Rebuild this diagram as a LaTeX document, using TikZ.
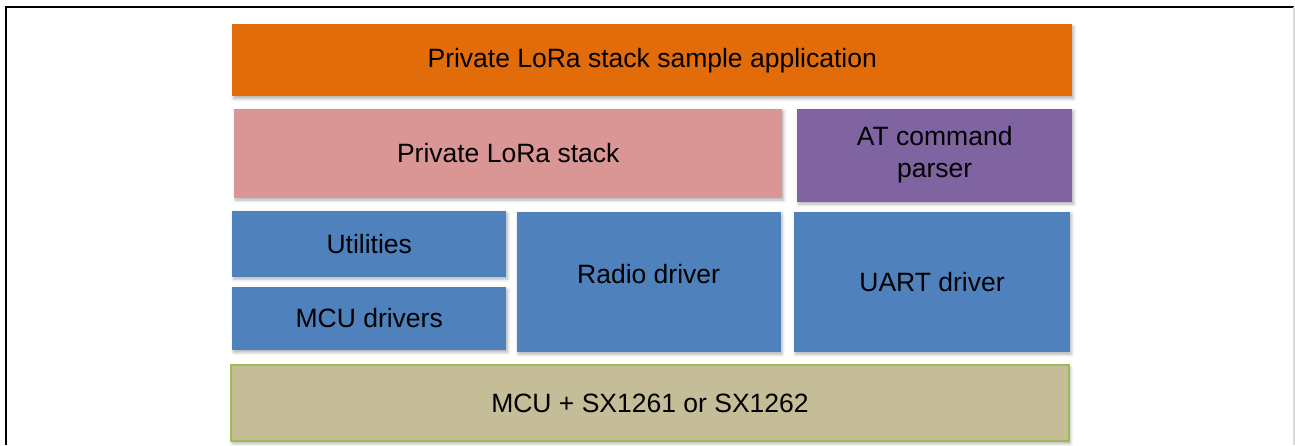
\documentclass[tikz,border=0pt]{standalone}
\usepackage{fontspec}
\setmainfont{Liberation Sans}
\usepackage{tikz}
\usetikzlibrary{positioning, shadows.blur}
\definecolor{appcolor}{HTML}{E36C0A}
\definecolor{stackcolor}{HTML}{D99694}
\definecolor{parsercolor}{HTML}{8064A2}
\definecolor{drvcolor}{HTML}{4F81BD}
\definecolor{hwcolor}{HTML}{C4BD97}
\definecolor{hwborder}{HTML}{9BBB59}
\tikzstyle{layer} = [rectangle, inner sep=0pt, text centered, font=\fontsize{26.5}{32}\selectfont, blur shadow={shadow xshift=1.5pt, shadow yshift=-2.5pt, shadow blur radius=3pt, shadow opacity=30}]
\tikzstyle{driver} = [layer, fill=drvcolor]
\tikzstyle{frame} = [line width=1.2pt]

\begin{document}
\begin{tikzpicture}[node distance=12pt, align=center]
    \useasboundingbox (0,0) rectangle (1295pt,-445pt);
    % frame
    \draw [frame, black] (6pt,-445pt) -- (6pt,-7pt) -- (1294pt,-7pt);
    \draw [frame, black!15] (1294pt,-7pt) -- (1294pt,-445pt);

    % layers
    \node (app) [layer, fill=appcolor, anchor=north west, minimum width=840pt, minimum height=72pt] at (232pt,-24pt) {Private LoRa stack sample application};
    \node (stack) [layer, fill=stackcolor, below right=12pt and 2pt of app.south west, minimum width=548pt, minimum height=89pt] {Private LoRa stack};
    \node (parser) [layer, fill=parsercolor, below right=12pt and 565pt of app.south west, minimum width=275pt, minimum height=93pt] {AT command\\parser};
    \node (utils) [driver, below right=114pt and 0pt of app.south west, minimum width=274pt, minimum height=66pt] {Utilities};
    \node (mcudrv) [driver, below right=10pt and 0pt of utils.south west, minimum width=274pt, minimum height=63pt] {MCU drivers};
    \node (radio) [driver, below right=1pt and 10pt of utils.north east, minimum width=264pt, minimum height=140pt, text depth=16pt] {Radio driver};
    \node (uart) [driver, below right=0pt and 13pt of radio.north east, minimum width=276pt, minimum height=140pt] {UART driver};
    \node (hw) [layer, fill=hwcolor, draw=hwborder, line width=2pt, below right=14pt and -2pt of mcudrv.south west, minimum width=838pt, minimum height=76pt] {MCU + SX1261 or SX1262};
\end{tikzpicture}
\end{document}
